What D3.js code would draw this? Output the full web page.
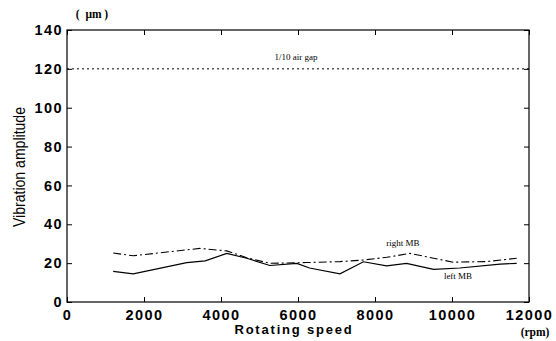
<!DOCTYPE html>
<html><head><meta charset="utf-8">
<script src="https://cdn.jsdelivr.net/npm/d3@7"></script>
<style>body{margin:0;background:#fff;}svg{display:block;}</style>
</head><body>
<script>
const leftRpm = [1200, 1720, 3110, 3590, 4150, 4670, 5270, 5970, 6300, 7090, 7700, 8300, 8820, 9520, 10200, 11250, 11680];
const leftVal = [15.8, 14.5, 20.3, 21.2, 25.0, 22.5, 18.8, 19.9, 17.5, 14.5, 20.7, 18.6, 19.9, 16.8, 17.5, 19.5, 19.9];
const rightRpm = [1200, 1720, 3450, 4150, 4670, 5270, 6220, 7090, 7700, 8300, 8910, 10030, 10900, 11680];
const rightVal = [25.2, 23.8, 27.6, 26.3, 22.8, 19.9, 20.3, 20.8, 21.6, 23.0, 25.0, 20.5, 20.8, 22.5];
const gapValue = 120;
const xTicks = [0, 2000, 4000, 6000, 8000, 10000, 12000];
const yTicks = [0, 20, 40, 60, 80, 100, 120, 140];

const W = 556, H = 341;
const m = {l: 67, r: 27, t: 30, b: 39};
const svg = d3.select("body").append("svg").attr("width", W).attr("height", H);
const x = d3.scaleLinear().domain([0, 12000]).range([m.l, W - m.r]);
const y = d3.scaleLinear().domain([0, 140]).range([H - m.b, m.t]);

// box
svg.append("rect").attr("x", x(0)).attr("y", y(140)).attr("width", x(12000) - x(0)).attr("height", y(0) - y(140))
  .attr("fill", "none").attr("stroke", "#000").attr("stroke-width", 1.2);

const tickFont = "'Liberation Sans', Arial, sans-serif";
function styleTicks(sel) {
  sel.selectAll("text").attr("font-family", tickFont).attr("font-size", 14.5).attr("font-weight", "bold")
    .attr("letter-spacing", 1.4).attr("fill", "#000");
}
// x axis
const xa = svg.append("g").attr("transform", `translate(0,${y(0)})`)
  .call(d3.axisBottom(x).tickValues(xTicks).tickSizeInner(-5).tickSizeOuter(0).tickPadding(8).tickFormat(d3.format("d")));
xa.select(".domain").remove();
styleTicks(xa);
// top ticks
svg.append("g").attr("transform", `translate(0,${y(140)})`)
  .call(d3.axisTop(x).tickValues(xTicks).tickSizeInner(-5).tickSizeOuter(0).tickFormat(""))
  .select(".domain").remove();
// y axis
const ya = svg.append("g").attr("transform", `translate(${x(0)},0)`)
  .call(d3.axisLeft(y).tickValues(yTicks).tickSizeInner(-5).tickSizeOuter(0).tickPadding(4));
ya.select(".domain").remove();
styleTicks(ya);
svg.append("g").attr("transform", `translate(${x(12000)},0)`)
  .call(d3.axisRight(y).tickValues(yTicks).tickSizeInner(-5).tickSizeOuter(0).tickFormat(""))
  .select(".domain").remove();

// gap line
svg.append("line").attr("x1", x(0)).attr("x2", x(12000)).attr("y1", y(gapValue)).attr("y2", y(gapValue))
  .attr("stroke", "#000").attr("stroke-width", 1).attr("stroke-dasharray", "2,3");

const line = d3.line().x(d => x(d[0])).y(d => y(d[1]));
svg.append("path").datum(rightRpm.map((r, i) => [r, rightVal[i]])).attr("d", line)
  .attr("fill", "none").attr("stroke", "#000").attr("stroke-width", 1.1).attr("stroke-dasharray", "8,3,2,3");
svg.append("path").datum(leftRpm.map((r, i) => [r, leftVal[i]])).attr("d", line)
  .attr("fill", "none").attr("stroke", "#000").attr("stroke-width", 1.2);

const serif = "'Liberation Serif', 'Times New Roman', serif";
svg.append("text").attr("x", 296).attr("y", 60).attr("text-anchor", "middle").attr("font-family", serif).attr("font-size", 9).text("1/10 air gap");
svg.append("text").attr("x", 403).attr("y", 246).attr("text-anchor", "middle").attr("font-family", serif).attr("font-size", 9).text("right MB");
svg.append("text").attr("x", 458).attr("y", 279).attr("text-anchor", "middle").attr("font-family", serif).attr("font-size", 9).text("left MB");

// axis titles
svg.append("text").attr("x", 294).attr("y", 334).attr("text-anchor", "middle")
  .attr("font-family", tickFont).attr("font-weight", "bold").attr("font-size", 13).attr("letter-spacing", 1.8).text("Rotating speed");
svg.append("text").attr("x", 535).attr("y", 336).attr("text-anchor", "middle")
  .attr("font-family", serif).attr("font-weight", "bold").attr("font-size", 11.5).text("(rpm)");
svg.append("text").attr("transform", "translate(25,167) rotate(-90)").attr("text-anchor", "middle")
  .attr("font-family", tickFont).attr("font-size", 16)
  .attr("textLength", 120).attr("lengthAdjust", "spacingAndGlyphs").text("Vibration amplitude");
svg.append("text").attr("x", 92).attr("y", 18).attr("text-anchor", "middle")
  .attr("font-family", serif).attr("font-weight", "bold").attr("font-size", 11.5).text("(\u00a0\u00a0μm\u00a0)");
</script>
</body></html>
